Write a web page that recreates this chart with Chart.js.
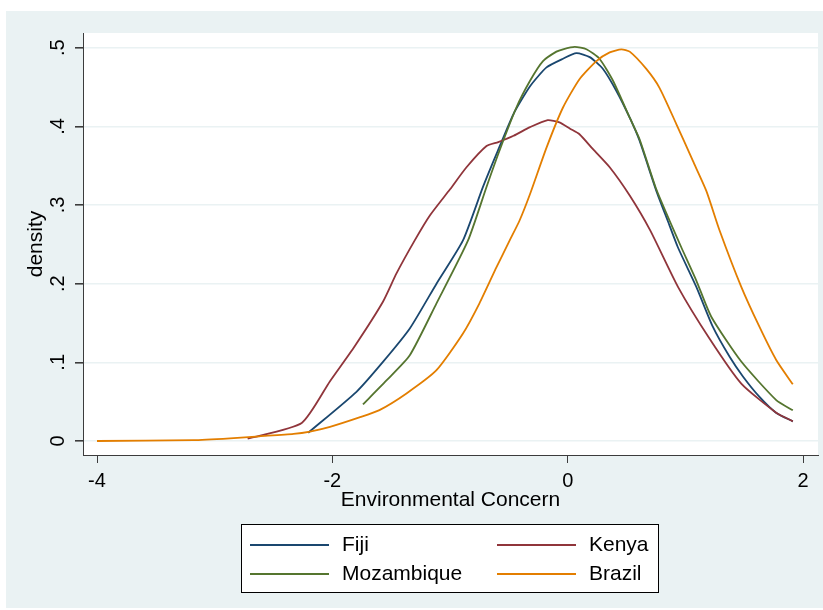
<!DOCTYPE html>
<html>
<head>
<meta charset="utf-8">
<script src="https://cdn.jsdelivr.net/npm/chart.js@4.4.0/dist/chart.umd.min.js"></script>
<style>
  html, body { margin: 0; padding: 0; background: #ffffff; }
  #wrap { width: 823px; height: 610px; }
</style>
</head>
<body>
<div id="wrap"><canvas id="c" width="823" height="610"></canvas></div>
<script>
// Kernel density estimates of environmental concern, by country
const fijiX = [-2.205, -1.795, -1.57, -1.342, -1.115, -0.89, -0.72, -0.605, -0.46, -0.32, -0.18, -0.04, 0.074, 0.187, 0.30, 0.414, 0.527, 0.61, 0.753, 0.85, 0.937, 1.093, 1.234, 1.376, 1.489, 1.63, 1.77, 1.913];
const fijiY = [0.0105, 0.0625, 0.1005, 0.143, 0.200, 0.255, 0.323, 0.365, 0.416, 0.451, 0.475, 0.486, 0.493, 0.488, 0.473, 0.445, 0.411, 0.382, 0.318, 0.280, 0.246, 0.196, 0.145, 0.107, 0.082, 0.056, 0.036, 0.025];

const kenyaX = [-2.72, -2.26, -2.02, -1.81, -1.57, -1.455, -1.30, -1.17, -1.0, -0.86, -0.69, -0.59, -0.46, -0.32, -0.17, -0.07, 0.02, 0.10, 0.215, 0.357, 0.527, 0.70, 0.937, 1.206, 1.475, 1.772, 1.913];
const kenyaY = [0.003, 0.023, 0.076, 0.1205, 0.177, 0.213, 0.255, 0.287, 0.320, 0.348, 0.375, 0.380, 0.388, 0.399, 0.408, 0.405, 0.397, 0.390, 0.371, 0.348, 0.312, 0.268, 0.196, 0.130, 0.073, 0.036, 0.025];

const mozX = [-1.74, -1.54, -1.342, -1.115, -0.847, -0.69, -0.58, -0.436, -0.32, -0.21, -0.096, -0.04, 0.06, 0.159, 0.27, 0.385, 0.527, 0.61, 0.753, 0.866, 0.966, 1.093, 1.22, 1.475, 1.772, 1.913];
const mozY = [0.0465, 0.077, 0.109, 0.175, 0.255, 0.323, 0.369, 0.424, 0.458, 0.483, 0.495, 0.498, 0.501, 0.498, 0.486, 0.458, 0.411, 0.384, 0.320, 0.280, 0.246, 0.204, 0.158, 0.101, 0.052, 0.039];

const brazilX = [-4.0, -3.18, -2.87, -2.62, -2.33, -2.19, -2.02, -1.77, -1.60, -1.37, -1.115, -0.89, -0.75, -0.605, -0.493, -0.41, -0.32, -0.18, -0.04, 0.10, 0.244, 0.357, 0.456, 0.527, 0.668, 0.78, 0.923, 1.064, 1.178, 1.29, 1.475, 1.63, 1.772, 1.913];
const brazilY = [0.000, 0.001, 0.0034, 0.006, 0.009, 0.012, 0.018, 0.030, 0.0393, 0.0605, 0.090, 0.1366, 0.175, 0.221, 0.255, 0.280, 0.314, 0.373, 0.424, 0.460, 0.483, 0.494, 0.498, 0.495, 0.473, 0.449, 0.403, 0.356, 0.318, 0.268, 0.196, 0.145, 0.103, 0.072];

const seriesNames = ['Fiji', 'Kenya', 'Mozambique', 'Brazil'];
const xTicks = [-4, -2, 0, 2];
const xTickLabels = ['-4', '-2', '0', '2'];
const yTicks = [0, 0.1, 0.2, 0.3, 0.4, 0.5];
const yTickLabels = ['0', '.1', '.2', '.3', '.4', '.5'];
const xTitle = 'Environmental Concern';
const yTitle = 'density';

const FONT = 'Liberation Sans, Arial, Helvetica, sans-serif';
const BG = '#eaf2f3';
const AXIS = '#3c3c3c';

function pts(xs, ys) { return xs.map((x, i) => ({ x: x, y: ys[i] })); }

function line(label, xs, ys, color, order) {
  return {
    label: label,
    data: pts(xs, ys),
    borderColor: color,
    backgroundColor: color,
    borderWidth: 1.8,
    pointRadius: 0,
    fill: false,
    tension: 0.2,
    order: order
  };
}

// Page background, graph region and white plot region
const frame = {
  id: 'frame',
  beforeDraw(chart) {
    const { ctx, chartArea: a } = chart;
    ctx.save();
    ctx.fillStyle = '#ffffff';
    ctx.fillRect(0, 0, chart.width, chart.height);
    ctx.fillStyle = BG;
    ctx.fillRect(6, 11, chart.width - 6, chart.height - 13);
    ctx.fillStyle = '#ffffff';
    ctx.fillRect(a.left, a.top, a.right - a.left, a.bottom - a.top);
    ctx.restore();
  }
};

// Vertical y tick labels, reading bottom to top
const yLabels = {
  id: 'yLabels',
  afterDraw(chart) {
    const { ctx } = chart;
    const ys = chart.scales.y;
    ctx.save();
    ctx.fillStyle = '#000000';
    ctx.font = '20px ' + FONT;
    ctx.textAlign = 'center';
    ctx.textBaseline = 'middle';
    yTicks.forEach((v, i) => {
      const py = ys.getPixelForValue(v);
      ctx.save();
      ctx.translate(58.5, py);
      ctx.rotate(-Math.PI / 2);
      ctx.fillText(yTickLabels[i], 0, 0);
      ctx.restore();
    });
    ctx.restore();
  }
};

// Two-column key in a framed box below the axis title
const keyBox = {
  id: 'keyBox',
  afterDraw(chart) {
    const { ctx } = chart;
    const bx = 241.5, by = 524.5, bw = 417, bh = 68;
    ctx.save();
    ctx.fillStyle = '#ffffff';
    ctx.fillRect(bx, by, bw, bh);
    ctx.strokeStyle = '#000000';
    ctx.lineWidth = 1;
    ctx.strokeRect(bx, by, bw, bh);
    const cols = [250, 497];
    const rows = [545, 574];
    ctx.font = '21px ' + FONT;
    ctx.textBaseline = 'middle';
    ctx.textAlign = 'left';
    chart.data.datasets.forEach((ds, i) => {
      const cx = cols[i % 2];
      const cy = rows[Math.floor(i / 2)];
      ctx.strokeStyle = ds.borderColor;
      ctx.lineWidth = 2;
      ctx.beginPath();
      ctx.moveTo(cx, cy);
      ctx.lineTo(cx + 79, cy);
      ctx.stroke();
      ctx.fillStyle = '#000000';
      ctx.fillText(ds.label, cx + 92, cy);
    });
    ctx.restore();
  }
};

new Chart(document.getElementById('c'), {
  type: 'line',
  data: {
    datasets: [
      line(seriesNames[0], fijiX, fijiY, '#1a476f', 3),
      line(seriesNames[1], kenyaX, kenyaY, '#90353b', 2),
      line(seriesNames[2], mozX, mozY, '#55752f', 1),
      line(seriesNames[3], brazilX, brazilY, '#e37e00', 0)
    ]
  },
  options: {
    responsive: false,
    animation: false,
    events: [],
    layout: { padding: { left: 0, top: 33, right: 5, bottom: 0 } },
    plugins: {
      legend: { display: false },
      tooltip: { enabled: false }
    },
    scales: {
      x: {
        type: 'linear',
        min: -4.119,
        max: 2.127,
        afterFit(s) { s.height = 155; },
        afterBuildTicks(s) { s.ticks = xTicks.map(v => ({ value: v })); },
        ticks: {
          color: '#000000',
          font: { family: FONT, size: 20 },
          padding: 6,
          maxRotation: 0,
          autoSkip: false,
          callback: (v) => xTickLabels[xTicks.indexOf(v)]
        },
        grid: {
          drawOnChartArea: false,
          tickLength: 8,
          tickColor: AXIS,
          lineWidth: 1
        },
        border: { display: true, color: AXIS, width: 1 },
        title: {
          display: true,
          text: xTitle,
          color: '#000000',
          font: { family: FONT, size: 21 },
          padding: { top: 0, bottom: 97 }
        }
      },
      y: {
        type: 'linear',
        min: -0.0178,
        max: 0.5187,
        afterFit(s) { s.width = 83; },
        afterBuildTicks(s) { s.ticks = yTicks.map(v => ({ value: v })); },
        ticks: { display: false },
        grid: {
          color: BG,
          lineWidth: 1.6,
          tickLength: 8,
          tickColor: AXIS
        },
        border: { display: true, color: AXIS, width: 1 },
        title: {
          display: true,
          text: yTitle,
          color: '#000000',
          font: { family: FONT, size: 21 },
          padding: { top: 24, bottom: 0 }
        }
      }
    }
  },
  plugins: [frame, yLabels, keyBox]
});
</script>
</body>
</html>
